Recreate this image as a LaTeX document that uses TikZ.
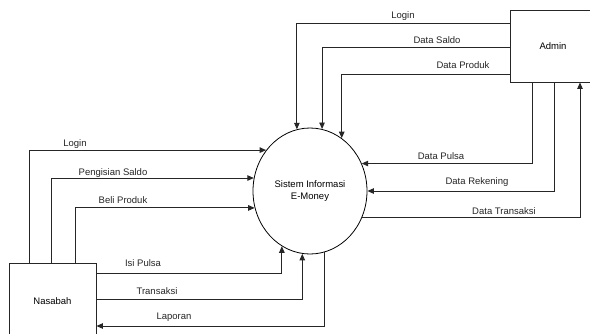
\documentclass[tikz,border=0pt]{standalone}
\usepackage{fontspec}
\setmainfont{Liberation Sans}
\usetikzlibrary{arrows.meta,shapes.geometric}
\begin{document}
\begin{tikzpicture}[x=1pt,y=-1pt,
  flow/.style={draw=black!85,line width=0.9pt},
  arr/.style={flow,-{Triangle[length=6.5pt,width=5.5pt]}},
  lbl/.style={font=\fontsize{9.5}{11}\selectfont,inner sep=0pt,text=black!85},
  ent/.style={draw=black!85,line width=0.9pt,rectangle,font=\fontsize{9.5}{11}\selectfont,inner sep=0pt},
  proc/.style={draw=black,line width=0.8pt,ellipse,font=\fontsize{9.5}{11}\selectfont,align=center,inner sep=0pt}]
\useasboundingbox (0,0) rectangle (590,333);
\clip (0,0) rectangle (590,333);
\fill[white] (0,0) rectangle (590,333);
\node[proc,minimum width=114pt,minimum height=126pt] (sys) at (310,191) {Sistem Informasi\\[1pt]E-Money};
\node[ent,minimum width=86pt,minimum height=72pt] (admin) at (553,46) {Admin};
\node[ent,minimum width=87pt,minimum height=76pt] (nas) at (52.5,301) {Nasabah};
% Admin -> system
\draw[arr] (admin.west |- 0,23) -| (sys.102);
\draw[arr] (admin.west |- 0,47) -| (sys.79.9);
\draw[arr] (admin.west |- 0,74) -| (sys.59.6);
\draw[arr] (admin.south -| 532,0) |- (sys.28.7);
\draw[arr] (admin.south -| 554,0) |- (sys.0);
\draw[arr] (sys.-27.7) -| (admin.south -| 580,0);
% Nasabah -> system
\draw[arr] (nas.north -| 29,0) |- (sys.137.8);
\draw[arr] (nas.north -| 51,0) |- (sys.167.9);
\draw[arr] (nas.north -| 75,0) |- (sys.197.2);
\draw[arr] (nas.east |- 0,273) -| (sys.243);
\draw[arr] (nas.east |- 0,299) -| (sys.263.6);
\draw[arr] (sys.283.9) |- (nas.east |- 0,326);
% labels
\node[lbl] (l1) at (403,16) {Login};
\node[lbl] (l2) at (437,40) {Data Saldo};
\node[lbl] (l3) at (463,65) {Data Produk};
\node[lbl] (l4) at (441,156) {Data Pulsa};
\node[lbl] (l5) at (477,182) {Data Rekening};
\node[lbl] (l6) at (504,211) {Data Transaksi};
\node[lbl] (l7) at (75,144) {Login};
\node[lbl] (l8) at (113,173) {Pengisian Saldo};
\node[lbl] (l9) at (123,200) {Beli Produk};
\node[lbl] (l10) at (143,263) {Isi Pulsa};
\node[lbl] (l11) at (157,291) {Transaksi};
\node[lbl] (l12) at (174,317) {Laporan};
\end{tikzpicture}
\end{document}
